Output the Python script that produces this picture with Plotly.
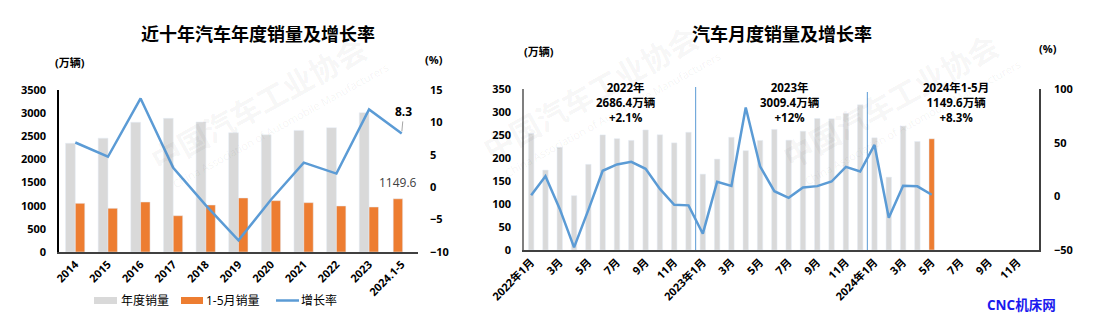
import plotly.graph_objects as go

W, H = 1093, 334

# ---- annual data (万辆, %) ----
years = ["2014", "2015", "2016", "2017", "2018", "2019", "2020",
         "2021", "2022", "2023", "2024.1-5"]
annual_sales = [2349.2, 2459.8, 2802.8, 2887.9, 2808.1, 2576.9, 2531.1,
                2627.5, 2686.4, 3009.4, None]
jan_may_sales = [1052, 944, 1080, 784, 1015, 1167, 1109, 1066, 994, 972, 1149.6]
annual_growth = [6.9, 4.7, 13.7, 3.0, -2.8, -8.2, -1.9, 3.8, 2.1, 12.0, 8.3]

# ---- monthly data (万辆, %) ----
months = ([f"2022年{m}月" for m in range(1, 13)] +
          [f"2023年{m}月" for m in range(1, 13)] +
          [f"2024年{m}月" for m in range(1, 13)])
month_ticks = ["2022年1月", "3月", "5月", "7月", "9月", "11月",
               "2023年1月", "3月", "5月", "7月", "9月", "11月",
               "2024年1月", "3月", "5月", "7月", "9月", "11月"]
monthly_sales = [253.1, 173.7, 223.4, 118.1, 186.2, 250.2, 242.0, 238.3, 261.0, 250.5, 232.9, 255.9,
                 164.9, 197.6, 245.1, 215.9, 238.2, 262.2, 238.7, 258.2, 285.8, 285.3, 297.0, 315.6,
                 243.9, 158.4, 269.4, 235.9, 241.7]
monthly_growth = [0.9, 18.7, -11.7, -47.6, -12.6, 23.8, 29.7, 32.1, 25.7, 6.9, -7.9, -8.4,
                  -34.8, 13.5, 9.7, 82.7, 27.9, 4.8, -1.4, 8.2, 9.5, 13.8, 27.4, 23.1,
                  47.9, -19.9, 9.9, 9.3, 1.5]
year_summaries = ["2022年<br>2686.4万辆<br>+2.1%",
                  "2023年<br>3009.4万辆<br>+12%",
                  "2024年1-5月<br>1149.6万辆<br>+8.3%"]

GRAY = "#d9d9d9"
ORANGE = "#ed7d31"
BLUE = "#5b9bd5"
AXIS = "#404040"
FONT = "Open Sans, Noto Sans CJK SC, sans-serif"


def px(x):
    return x / W


def py(y):
    return 1 - y / H


fig = go.Figure()

# ---- left: annual chart ----
fig.add_trace(go.Bar(x=years, y=annual_sales, name="年度销量", marker_color=GRAY,
                     width=0.3, offset=-0.3, xaxis="x", yaxis="y", showlegend=False))
orange_offsets = [0.0] * (len(years) - 1) + [-0.26]
fig.add_trace(go.Bar(x=years, y=jan_may_sales, name="1-5月销量", marker_color=ORANGE,
                     width=0.29, offset=orange_offsets, xaxis="x", yaxis="y", showlegend=False))
fig.add_trace(go.Scatter(x=years, y=annual_growth, name="增长率", mode="lines",
                         line=dict(color=BLUE, width=2.5), xaxis="x", yaxis="y2",
                         showlegend=False))

# ---- right: monthly chart ----
mx = list(range(len(monthly_sales)))
bar_colors = [GRAY] * (len(monthly_sales) - 1) + [ORANGE]
fig.add_trace(go.Bar(x=mx, y=monthly_sales, marker_color=bar_colors, width=0.38,
                     xaxis="x2", yaxis="y3", showlegend=False))
fig.add_trace(go.Scatter(x=mx, y=monthly_growth, mode="lines",
                         line=dict(color=BLUE, width=2.5), xaxis="x2", yaxis="y4",
                         showlegend=False))

tickfont = dict(family=FONT, size=11, color="#000000", weight="bold")

fig.update_layout(
    width=W, height=H,
    margin=dict(l=0, r=0, t=0, b=0, autoexpand=False),
    paper_bgcolor="white", plot_bgcolor="white",
    barmode="overlay",
    font=dict(family=FONT),
    xaxis=dict(domain=[px(59), px(418)], type="category", tickangle=-45,
               tickfont=tickfont, showline=True, linecolor=AXIS, linewidth=1.5,
               showgrid=False, ticks="", anchor="y", range=[-0.5, len(years) - 0.5],
               automargin=False),
    yaxis=dict(domain=[py(252), py(90)], range=[0, 3500], dtick=500,
               tickfont=tickfont, showline=True, linecolor="#000000", linewidth=1.5,
               showgrid=False, zeroline=False, ticks="", anchor="x", ticklabelstandoff=9,
               automargin=False),
    yaxis2=dict(overlaying="y", side="right", range=[-10, 15], dtick=5,
                tickfont=tickfont, showline=False, showgrid=False, zeroline=False,
                ticks="", anchor="x", ticklabelstandoff=11, automargin=False),
    xaxis2=dict(domain=[px(524), px(1039)], tickangle=-45, tickfont=tickfont,
                range=[-0.5, len(months) - 0.5],
                tickvals=list(range(0, len(months), 2)), ticktext=month_ticks,
                showline=True, linecolor=AXIS, linewidth=1.5, showgrid=False,
                zeroline=False, ticks="", anchor="y3", automargin=False),
    yaxis3=dict(domain=[py(250), py(89)], range=[0, 350], dtick=50,
                tickfont=tickfont, showline=True, linecolor="#7f7f7f", linewidth=1.5,
                showgrid=False, zeroline=False, ticks="", anchor="x2", ticklabelstandoff=9,
                automargin=False),
    yaxis4=dict(overlaying="y3", side="right", range=[-50, 100], dtick=50,
                tickfont=tickfont, showline=True, linecolor=AXIS, linewidth=1.5,
                showgrid=False, zeroline=False, ticks="", anchor="x2", ticklabelstandoff=11,
                automargin=False),
)

ann = []
shapes = []


def label(text, cx, cy, font, xanchor="center", **kw):
    ann.append(dict(text=text, x=px(cx), y=py(cy), xref="paper", yref="paper",
                    xanchor=xanchor, yanchor="middle", showarrow=False, font=font, **kw))


# watermark text
WM_CN = "中国汽车工业协会"
WM_EN = "China Association of Automobile Manufacturers"
for cx, cy in [(258, 103), (590, 92), (890, 100)]:
    label(WM_CN, cx, cy, dict(family="Noto Sans CJK SC", size=30,
                              color="rgba(0,0,0,0.05)", weight="bold"), textangle=-29)
    label(WM_EN, cx + 22, cy + 22, dict(family=FONT, size=11, color="rgba(0,0,0,0.06)"),
          textangle=-29)

# titles
title_font = dict(family="Noto Sans CJK SC", size=18, color="#000000", weight="bold")
label("近十年汽车年度销量及增长率", 258, 33, title_font)
label("汽车月度销量及增长率", 781.5, 33, title_font)

unit_font = dict(family=FONT, size=11, color="#000000", weight="bold")
for text, cx, cy in [("(万辆)", 70, 62), ("(%)", 434, 59),
                     ("(万辆)", 538.5, 51), ("(%)", 1048, 48)]:
    label(text, cx, cy, unit_font)

# value labels on the annual chart
ann.append(dict(text=f"{jan_may_sales[-1]:.1f}", x=years[-1], y=jan_may_sales[-1],
                xref="x", yref="y", showarrow=False, xanchor="center", yanchor="bottom",
                yshift=6, xshift=-4, font=dict(family=FONT, size=12, color="#404040")))
ann.append(dict(text=f"{annual_growth[-1]:.1f}", x=years[-1], y=annual_growth[-1],
                xref="x", yref="y2", showarrow=True, arrowhead=0, arrowwidth=1,
                arrowcolor="#a6a6a6", ax=2, ay=-22, standoff=2,
                xanchor="center", yanchor="middle",
                font=dict(family=FONT, size=12, color="#000000", weight="bold")))

# yearly summaries on the monthly chart
for text, cx in zip(year_summaries, [626, 790, 956]):
    label(text, cx, 102.5, dict(family=FONT, size=11.5, color="#000000", weight="bold"),
          align="center")

# year separators
for xv, top in [(11.5, 87), (23.5, 92)]:
    shapes.append(dict(type="line", xref="x2", yref="paper", x0=xv, x1=xv,
                       y0=py(250), y1=py(top), line=dict(color=BLUE, width=1)))

# custom legend for the annual chart
leg_font = dict(family=FONT, size=12, color="#000000")
shapes.append(dict(type="rect", xref="paper", yref="paper", x0=px(94), x1=px(117),
                   y0=py(304), y1=py(297), fillcolor=GRAY, line=dict(width=0)))
label("年度销量", 119, 300.5, leg_font, xanchor="left")
shapes.append(dict(type="rect", xref="paper", yref="paper", x0=px(181), x1=px(203),
                   y0=py(304), y1=py(297), fillcolor=ORANGE, line=dict(width=0)))
label("1-5月销量", 204, 300.5, leg_font, xanchor="left")
shapes.append(dict(type="line", xref="paper", yref="paper", x0=px(276), x1=px(299),
                   y0=py(300.5), y1=py(300.5), line=dict(color=BLUE, width=2.5)))
label("增长率", 299, 300.5, leg_font, xanchor="left")

# site mark
label("CNC机床网", 1021, 305, dict(family=FONT, size=13.5, color="#1a1aee", weight="bold"))

fig.update_layout(annotations=ann, shapes=shapes)
fig.write_html("out.html")
